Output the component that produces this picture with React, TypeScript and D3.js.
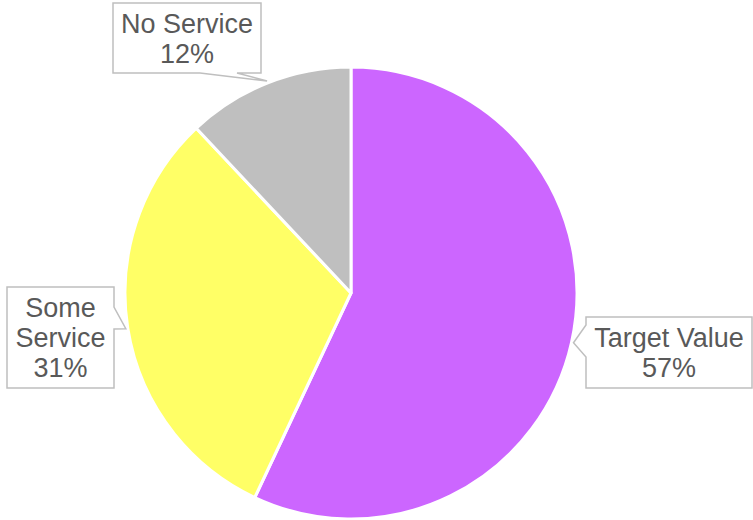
import React from "react";
import * as d3 from "d3";

const categories = ["Target Value", "Some Service", "No Service"];
const values = [57, 31, 12];
const colors = ["#CC66FF", "#FFFF66", "#BFBFBF"];

// callout layout: box rect + pointer base on a side
type Callout = { x: number; y: number; w: number; h: number; side: "left" | "right" | "bottom"; b0: number; b1: number; lines: string[] };
const callouts: Callout[] = [
  { x: 586, y: 317, w: 166, h: 71, side: "left", b0: 325, b1: 357, lines: ["Target Value", "57%"] },
  { x: 7, y: 287, w: 107, h: 101, side: "right", b0: 307, b1: 329, lines: ["Some", "Service", "31%"] },
  { x: 113, y: 3, w: 148, h: 70, side: "bottom", b0: 200, b1: 237, lines: ["No Service", "12%"] },
];

const W = 753, H = 520;
const cx = 351, cy = 293, R = 226;

export default function App() {
  const pie = d3.pie<number>().sort(null).value((d) => d)(values);
  const arc = d3.arc<d3.PieArcDatum<number>>().innerRadius(0).outerRadius(R);
  const tipArc = d3.arc<d3.PieArcDatum<number>>().innerRadius(456).outerRadius(0);
  const lh = 30;
  return (
    <div style={{ position: "absolute", left: 0, top: 0 }}>
      <svg width={W} height={H} style={{ display: "block" }}>
        <rect width={W} height={H} fill="#fff" />
        <g transform={`translate(${cx},${cy})`}>
          {pie.map((p, i) => (
            <path key={i} d={arc(p) || ""} fill={colors[i]} stroke="#fff" strokeWidth={3} strokeLinejoin="round" />
          ))}
        </g>
        {callouts.map((c, i) => {
          const [tx0, ty0] = tipArc.centroid(pie[i]);
          const tx = tx0 + cx, ty = ty0 + cy;
          const { x, y, w, h } = c;
          let d = "";
          if (c.side === "left") {
            d = `M${x},${y} H${x + w} V${y + h} H${x} V${c.b1} L${tx},${ty} L${x},${c.b0} Z`;
          } else if (c.side === "right") {
            d = `M${x},${y} H${x + w} V${c.b0} L${tx},${ty} L${x + w},${c.b1} V${y + h} H${x} Z`;
          } else {
            d = `M${x},${y} H${x + w} V${y + h} H${c.b1} L${tx},${ty} L${c.b0},${y + h} H${x} Z`;
          }
          const n = c.lines.length;
          const midY = y + h / 2;
          return (
            <g key={i}>
              <path d={d} fill="#fff" stroke="#BFBFBF" strokeWidth={1.5} />
              {c.lines.map((t, j) => (
                <text
                  key={j}
                  x={x + w / 2}
                  y={midY + (j - (n - 1) / 2) * lh + 9.5}
                  textAnchor="middle"
                  fontFamily="'Liberation Sans', Arial, sans-serif"
                  fontSize={27}
                  fill="#595959"
                >
                  {t}
                </text>
              ))}
            </g>
          );
        })}
      </svg>
    </div>
  );
}
